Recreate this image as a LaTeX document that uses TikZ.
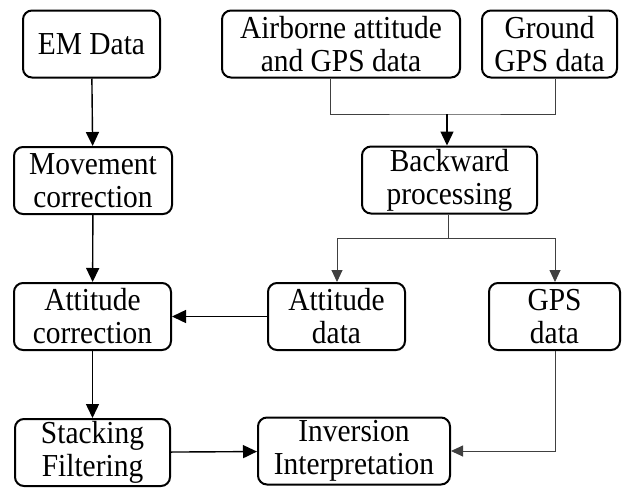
\documentclass[tikz,border=0pt]{standalone}
\usepackage{fontspec}
\setmainfont{Liberation Serif}[FakeStretch=0.92]
\usetikzlibrary{arrows.meta}
\begin{document}
\begin{tikzpicture}[x=1pt,y=-1pt,
  box/.style={draw,line width=2pt,rounded corners=9pt,inner sep=0pt,align=center,
    minimum height=67pt,font=\fontsize{32}{33}\selectfont},
  thick arrow/.style={line width=1.4pt,-{Triangle[length=14pt,width=13pt]}},
  thin line/.style={line width=0.9pt,draw=black!75},
  thin arrow/.style={line width=0.9pt,draw=black!75,-{Triangle[length=12pt,width=11pt]}}]
\useasboundingbox (0,0) rectangle (630,488);
\node[box,minimum width=137pt] (em) at (91.5,44) {EM Data};
\node[box,minimum width=238pt] (air) at (341,44) {Airborne attitude\\and GPS data};
\node[box,minimum width=135pt] (gnd) at (549.5,44) {Ground\\GPS data};
\node[box,minimum width=158pt] (mov) at (93,180.5) {Movement\\correction};
\node[box,minimum width=175pt] (back) at (449.5,180) {Backward\\processing};
\node[box,minimum width=157pt] (attc) at (92.5,316.5) {Attitude\\correction};
\node[box,minimum width=137pt] (attd) at (336.5,316.5) {Attitude\\data};
\node[box,minimum width=131pt] (gpsd) at (554.5,316.5) {GPS\\data};
\node[box,minimum width=155pt] (stack) at (92.5,452.5) {Stacking\\Filtering};
\node[box,minimum width=192pt] (inv) at (354,451) {Inversion\\Interpretation};
\coordinate (j1) at (447,114);
\coordinate (j2) at (448,238);
% connectors
\draw[thick arrow] (em) -- (mov);
\draw[thin line] (air.south -| 330,0) |- (j1) -| (gnd.south -| 555,0);
\draw[thick arrow] (j1) -- (back.north -| j1);
\draw[thin line] (back.south -| j2) -- (j2);
\draw[thin arrow] (j2) -| (attd.north -| 337,0);
\draw[thin arrow] (j2) -| (gpsd.north -| 555,0);
\draw[thick arrow] (mov) -- (attc);
\draw[thick arrow] (attd) -- (attc);
\draw[thick arrow] (attc) -- (stack);
\draw[thick arrow] (stack) -- (inv);
\draw[thin arrow] (gpsd.south -| 555,0) |- (inv.east);
\end{tikzpicture}
\end{document}
